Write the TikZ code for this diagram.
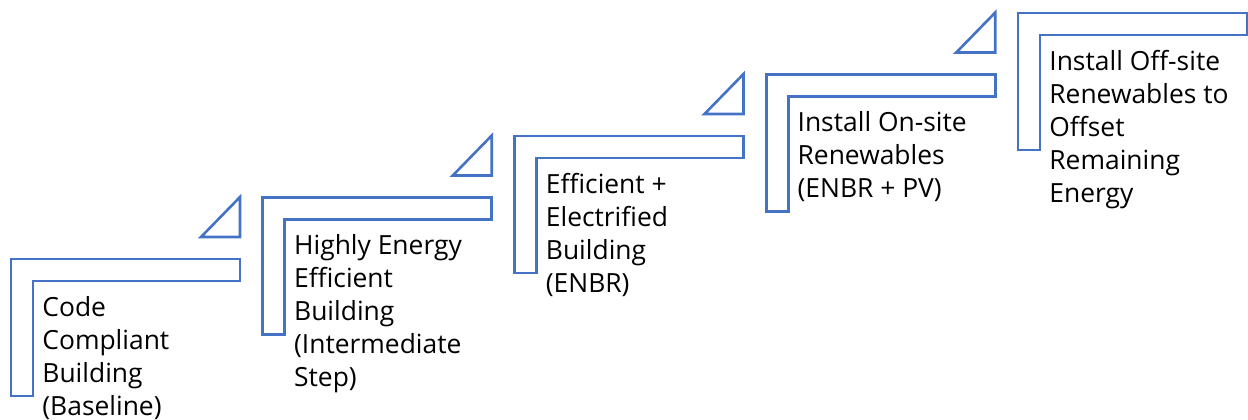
\documentclass[tikz,border=0pt]{standalone}
\usepackage{fontspec}
\setmainfont{Open Sans}
\definecolor{stepblue}{HTML}{4472C4}
\tikzset{
    stepline/.style={draw=stepblue, line width=1.3pt},
    steplabel/.style={anchor=north west, inner sep=0pt, align=left,
        font=\fontsize{13.2}{16.5}\selectfont}
}
\begin{document}
\begin{tikzpicture}[x=0.5pt,y=-0.5pt]
    \useasboundingbox (0,0) rectangle (1248,419);
    % the five steps
    \foreach \i/\txt in {0/{Code\\Compliant\\Building\\(Baseline)},
        1/{Highly Energy\\Efficient\\Building\\(Intermediate\\Step)},
        2/{Efficient +\\Electrified\\Building\\(ENBR)},
        3/{Install On-site\\Renewables\\(ENBR + PV)},
        4/{Install Off-site\\Renewables to\\Offset\\Remaining\\Energy}} {
        \pgfmathsetmacro{\l}{11+251.75*\i}
        \pgfmathsetmacro{\t}{259-61.5*\i}
        \draw[stepline] (\l,\t) -- ++(229,0) -- ++(0,22) -- ++(-207,0)
            -- ++(0,115) -- ++(-22,0) -- cycle;
        \node[steplabel] (label\i) at (\l+31,\t+37) {\txt};
    }
    % triangles above the first four steps
    \foreach \i in {0,...,3} {
        \pgfmathsetmacro{\l}{11+251.75*\i}
        \pgfmathsetmacro{\t}{259-61.5*\i}
        \draw[stepline] (\l+190,\t-22) -- ++(39,0) -- ++(0,-40) -- cycle;
    }
\end{tikzpicture}
\end{document}
